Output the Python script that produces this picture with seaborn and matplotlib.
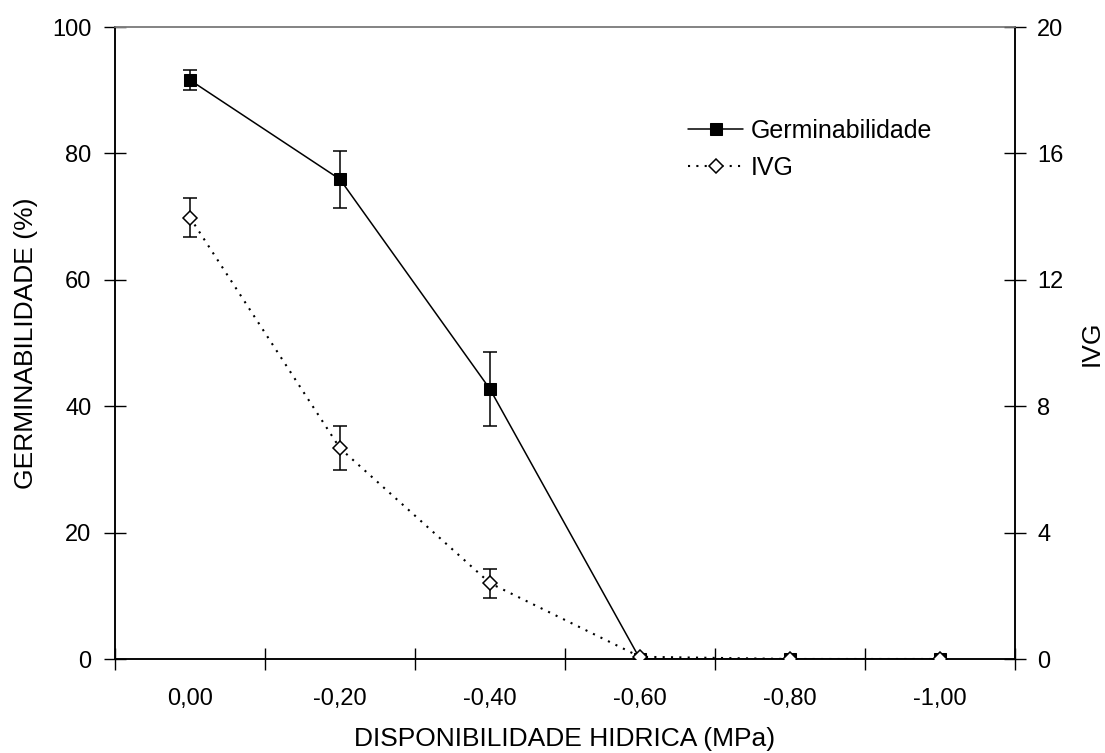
import numpy as np
import pandas as pd
import matplotlib
matplotlib.use("Agg")
import matplotlib.pyplot as plt
import seaborn as sns

categories = ["0,00", "-0,20", "-0,40", "-0,60", "-0,80", "-1,00"]
germ = [91.6, 75.9, 42.7, 0.0, 0.0, 0.0]
germ_err = [1.6, 4.5, 5.9, 0.0, 0.0, 0.0]
ivg = [13.97, 6.67, 2.40, 0.07, 0.0, 0.0]
ivg_err = [0.63, 0.69, 0.46, 0.0, 0.0, 0.0]
left_ticks = [0, 20, 40, 60, 80, 100]
right_ticks = [0, 4, 8, 12, 16, 20]

sns.set_theme(style="white")
plt.rcParams["font.family"] = ["Liberation Sans", "DejaVu Sans"]
plt.rcParams["text.color"] = "black"
plt.rcParams["axes.labelcolor"] = "black"
plt.rcParams["xtick.color"] = "black"
plt.rcParams["ytick.color"] = "black"

pos = np.arange(len(categories))
df = pd.DataFrame({"pos": pos, "germ": germ, "ivg": ivg})

fig = plt.figure(figsize=(11.05, 7.53), dpi=100)
ax = fig.add_axes([115/1105, 1-659/753, 900/1105, 632/753])
ax2 = ax.twinx()

# Germinabilidade on left axis
ax.errorbar(pos, germ, yerr=germ_err, fmt="none", ecolor="black",
            elinewidth=1.1, capsize=5, capthick=1.1, zorder=3)
sns.lineplot(data=df, x="pos", y="germ", ax=ax, color="black", lw=1.1,
             marker="s", markersize=9, markeredgecolor="black",
             markerfacecolor="black", label="Germinabilidade", legend=False,
             zorder=4)

# IVG on right axis
ax2.errorbar(pos, ivg, yerr=ivg_err, fmt="none", ecolor="black",
             elinewidth=1.1, capsize=5, capthick=1.1, zorder=3)
sns.lineplot(data=df, x="pos", y="ivg", ax=ax2, color="black", lw=1.5,
             linestyle=(0, (1, 3)), marker="D", markersize=7,
             markeredgecolor="black", markerfacecolor="white",
             markeredgewidth=1.1, label="IVG", legend=False, zorder=5)

ax.set_xlim(-0.5, len(categories) - 0.5)
ax.set_ylim(0, 100)
ax2.set_ylim(0, 20)

ax.set_xticks(pos)
ax.set_xticklabels(categories)
ax.set_xticks(np.arange(len(categories) + 1) - 0.5, minor=True)
ax.tick_params(axis="x", which="major", length=0, pad=21, labelsize=17)
ax.tick_params(axis="x", which="minor", direction="inout", length=16,
               width=1, color="black", bottom=True)
ax.set_yticks(left_ticks)
ax.tick_params(axis="y", which="major", direction="inout", length=16,
               width=1, color="black", left=True, pad=9, labelsize=17)
ax2.set_yticks(right_ticks)
ax2.tick_params(axis="y", which="major", direction="inout", length=16,
                width=1, color="black", right=True, pad=8, labelsize=17)

for a in (ax, ax2):
    for s in ["left", "right", "bottom"]:
        a.spines[s].set_color("black")
        a.spines[s].set_linewidth(1.1)
    a.spines["top"].set_color("#808080")
    a.spines["top"].set_linewidth(1.1)
    a.grid(False)
ax.patch.set_visible(False)

ax.set_xlabel("DISPONIBILIDADE HIDRICA (MPa)", fontsize=19)
ax.set_ylabel("GERMINABILIDADE (%)", fontsize=19)
ax2.set_ylabel("IVG", fontsize=19)
ax.xaxis.set_label_coords(0.5, (659-727)/632)
ax.yaxis.set_label_coords((38-115)/900, 0.5)
ax2.yaxis.set_label_coords((1080-115)/900, 0.5)

h1, l1 = ax.get_legend_handles_labels()
h2, l2 = ax2.get_legend_handles_labels()
leg = ax2.legend(h1 + h2, l1 + l2, loc="upper left",
                 bbox_to_anchor=((688-115)/900, (659-119)/632),
                 frameon=False, fontsize=18, handlelength=2.2,
                 handletextpad=0.3, labelspacing=0.5, borderpad=0,
                 borderaxespad=0)

fig.savefig("out.png", dpi=100)
